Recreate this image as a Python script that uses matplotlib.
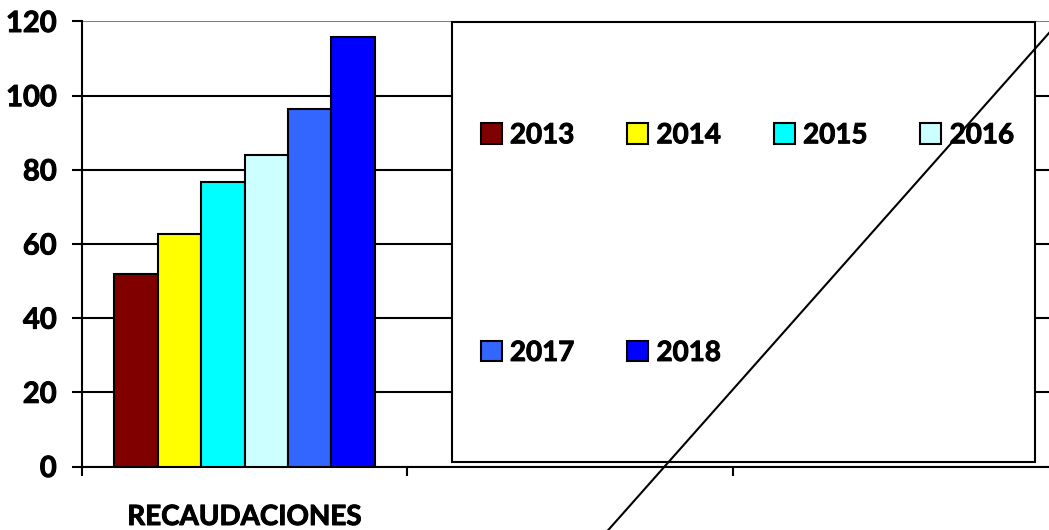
import matplotlib
matplotlib.use("Agg")
import matplotlib.pyplot as plt
import matplotlib.patheffects as pe
from matplotlib.patches import Patch, Rectangle
from matplotlib.lines import Line2D

plt.rcParams['font.family'] = ['Lato', 'DejaVu Sans']
plt.rcParams['font.weight'] = 'bold'

# data
categories = ["RECAUDACIONES", "", ""]
years = ["2013", "2014", "2015", "2016", "2017", "2018"]
values = [51.8, 62.7, 76.7, 84.1, 96.3, 115.7]
colors = ["#800000", "#FFFF00", "#00FFFF", "#CCFFFF", "#3366FF", "#0000FF"]
yticks = [0, 20, 40, 60, 80, 100, 120]

W, H = 1049, 530
LW = 1.5
heavy = [pe.withStroke(linewidth=0.7, foreground='black')]  # Calibri-bold look

fig = plt.figure(figsize=(W / 100, H / 100), dpi=100)
# axes runs a bit past the right edge of the picture, as in the original
ax = fig.add_axes([81.7 / W, 63.5 / H, 977 / W, 445 / H])

n = len(years)
group_w = 0.8
bw = group_w / n
for i, (yr, v, c) in enumerate(zip(years, values, colors)):
    x = 0.5 - group_w / 2 + bw * (i + 0.5)
    ax.bar(x, v, width=bw, color=c, edgecolor="black", linewidth=LW, label=yr, zorder=3)

ax.set_xlim(0, len(categories))
ax.set_ylim(0, 120)
ax.set_yticks(yticks)
ax.set_yticklabels([str(t) for t in yticks], fontsize=21, fontweight='bold')
ax.tick_params(axis='y', length=7, width=LW, pad=11, direction='out')

ax.set_xticks(range(len(categories) + 1))
ax.set_xticklabels([])
ax.tick_params(axis='x', which='major', length=6.5, width=LW, direction='out')
ax.set_xticks([i + 0.5 for i in range(len(categories))], minor=True)
ax.set_xticklabels(categories, minor=True, fontsize=20, fontweight='bold')
ax.tick_params(axis='x', which='minor', length=0, pad=27)

for lbl in ax.get_yticklabels() + ax.get_xticklabels(minor=True):
    lbl.set_path_effects(heavy)

ax.grid(axis='y', color='black', linewidth=LW, zorder=1)
ax.set_axisbelow(True)
for gl, t in zip(ax.get_ygridlines(), yticks):
    if t == 120:
        gl.set_color('#808080')
for s in ['top', 'right']:
    ax.spines[s].set_visible(False)
ax.spines['left'].set_linewidth(LW)
ax.spines['bottom'].set_linewidth(LW)

# legend box
fig.add_artist(Rectangle((452.3 / W, (H - 462.3) / H), (1035 - 452.3) / W, (462.3 - 22) / H,
                         transform=fig.transFigure, facecolor='white', edgecolor='black',
                         linewidth=LW, zorder=3))
handles = [Patch(facecolor=c, edgecolor='black', linewidth=LW, label=yr) for yr, c in zip(years, colors)]
# matplotlib fills legend columns first; reorder so it reads row by row
order = [0, 4, 1, 5, 2, 3]
leg = fig.legend(handles=[handles[k] for k in order], ncol=4, loc='center left',
                 bbox_to_anchor=(466.7 / W, (H - 244.1) / H),
                 frameon=False, borderpad=0, prop={'size': 20, 'weight': 'bold'},
                 handlelength=0.755, handleheight=0.755, handletextpad=0.3,
                 columnspacing=1.9, labelspacing=6.9)
for t in leg.get_texts():
    t.set_path_effects(heavy)

# stray diagonal line across the picture
fig.add_artist(Line2D([608.3 / W, 1.0], [0, (H - 33) / H], transform=fig.transFigure,
                      color='black', linewidth=LW, zorder=6))

fig.savefig("out.png", dpi=100)
